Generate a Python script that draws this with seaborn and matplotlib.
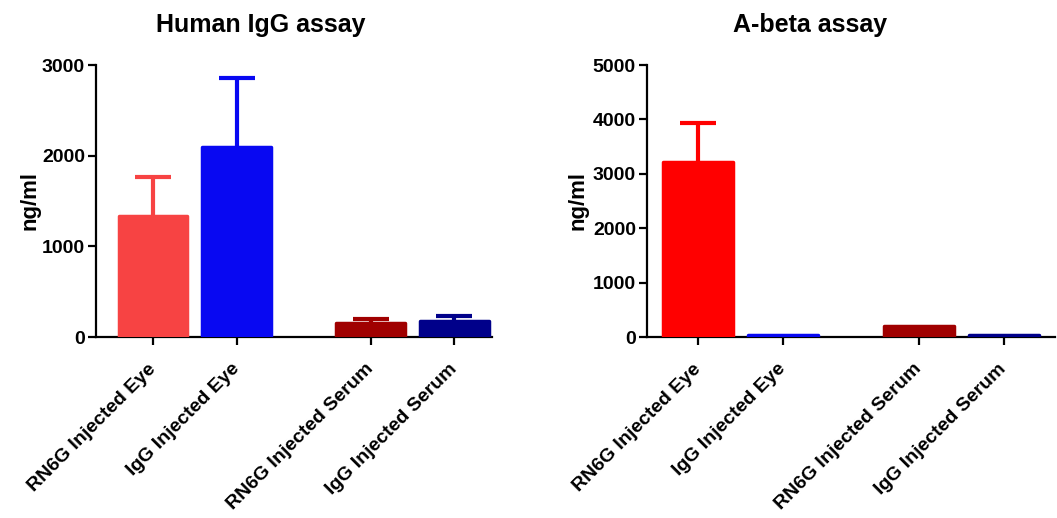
import matplotlib
matplotlib.use("Agg")
import matplotlib.pyplot as plt
import seaborn as sns
import pandas as pd

# ---- data ----
categories = ["RN6G Injected Eye", "IgG Injected Eye", "RN6G Injected Serum", "IgG Injected Serum"]
igg_means = [1338, 2099, 158, 180]
igg_err_upper = [430, 754, 37, 55]
abeta_means = [3222, 40, 202, 35]
abeta_err_upper = [706, 0, 0, 0]
igg_ticks = [0, 1000, 2000, 3000]
abeta_ticks = [0, 1000, 2000, 3000, 4000, 5000]

# ---- layout / style ----
positions = [0, 1, 2.6, 3.6]
igg_colors = ["#F74343", "#0808F2", "#A00000", "#00008A"]
abeta_colors = ["#FF0000", "#0808F2", "#A00000", "#00008A"]

sns.set_theme(style="white")
plt.rcParams["font.family"] = ["Liberation Sans", "DejaVu Sans"]
plt.rcParams["font.weight"] = "bold"
plt.rcParams["text.color"] = "black"
plt.rcParams["axes.labelcolor"] = "black"
plt.rcParams["xtick.color"] = "black"
plt.rcParams["ytick.color"] = "black"

fig = plt.figure(figsize=(10.57, 5.18), dpi=100)
ax1 = fig.add_axes([96 / 1057, 1 - 337 / 518, 396 / 1057, 272 / 518])
ax2 = fig.add_axes([647 / 1057, 1 - 337 / 518, 408 / 1057, 272 / 518])


def draw(ax, means, errs, colors, ticks, title, xlim, title_x, labelpad):
    df = pd.DataFrame({"pos": positions, "val": means, "cat": categories})
    sns.barplot(data=df, x="pos", y="val", hue="cat", palette=colors,
                native_scale=True, width=0.82, errorbar=None, legend=False,
                ax=ax, saturation=1, zorder=3)
    for patch, c in zip(ax.patches, colors):
        patch.set_edgecolor(c)
        patch.set_linewidth(2.5)
        patch.set_joinstyle("round")
    for x, m, e, c in zip(positions, means, errs, colors):
        if e > 0:
            _, caps, _ = ax.errorbar([x], [m], yerr=[[0], [e]], fmt="none",
                                     ecolor=c, elinewidth=3, capsize=13,
                                     capthick=3, zorder=2)
            caps[0].set_visible(False)
    ax.set_ylim(0, ticks[-1])
    ax.set_yticks(ticks)
    ax.set_yticklabels([str(t) for t in ticks], fontsize=14, fontweight="bold",
                       color="black")
    ax.set_xlim(*xlim)
    ax.set_xticks(positions)
    ax.set_xticklabels(categories, rotation=45, ha="right", va="center",
                       rotation_mode="anchor", fontsize=14, fontweight="bold",
                       color="black")
    ax.set_xlabel("")
    ax.set_ylabel("ng/ml", fontsize=16, fontweight="bold", labelpad=labelpad,
                  color="black")
    ax.text(title_x, 1.0 + 28 / 272, title, transform=ax.transAxes,
            ha="center", va="bottom", fontsize=18, fontweight="bold",
            color="black")
    for s in ["top", "right"]:
        ax.spines[s].set_visible(False)
    for s in ["left", "bottom"]:
        ax.spines[s].set_linewidth(1.6)
        ax.spines[s].set_color("black")
    ax.tick_params(axis="both", which="major", direction="out", length=6,
                   width=1.6, color="black", bottom=True, left=True,
                   labelcolor="black")
    ax.tick_params(axis="x", pad=15)
    ax.tick_params(axis="y", pad=2)


draw(ax1, igg_means, igg_err_upper, igg_colors, igg_ticks,
     "Human IgG assay", (-0.68, 4.05), 0.417, 1)
draw(ax2, abeta_means, abeta_err_upper, abeta_colors, abeta_ticks,
     "A-beta assay", (-0.6, 4.2), 0.40, 3)

fig.savefig("out.png", dpi=100, facecolor="white")
